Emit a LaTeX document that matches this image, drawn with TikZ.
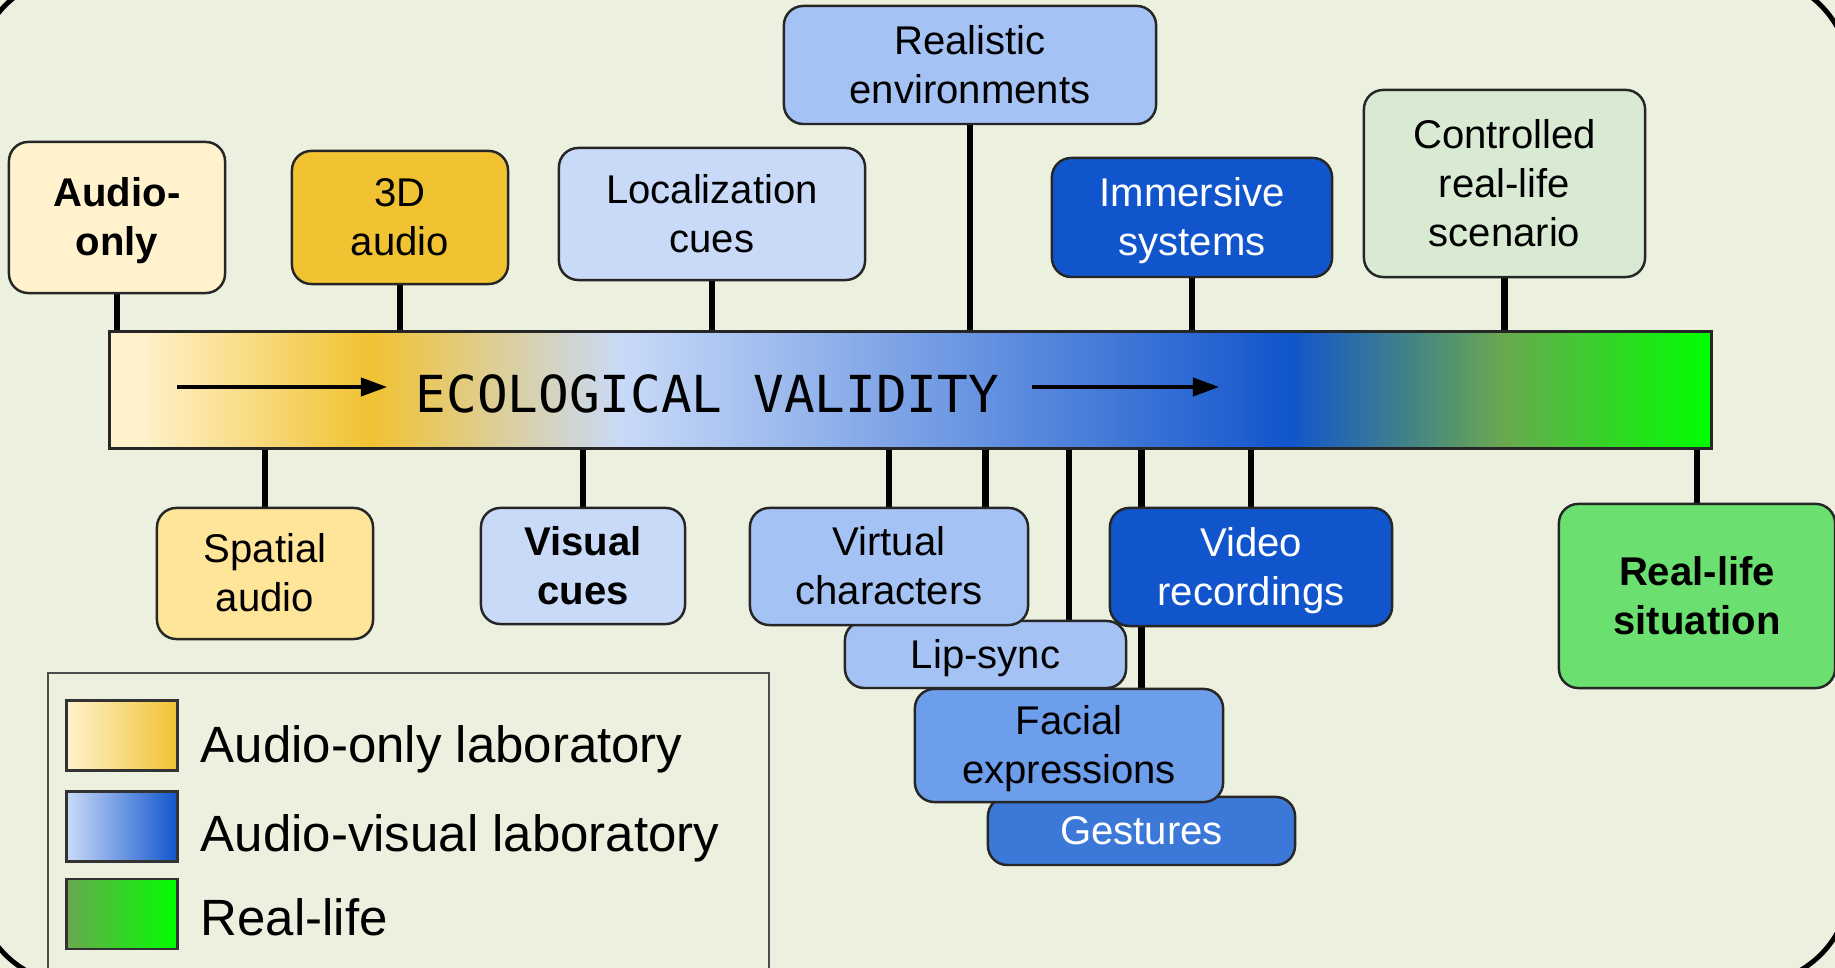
\documentclass[tikz,border=0pt]{standalone}
\usepackage{fontspec}
\setmainfont{Liberation Sans}
\newfontfamily\ecomono{DejaVu Sans Mono}
\usetikzlibrary{arrows.meta}

\definecolor{bgc}{HTML}{ECF0DF}
\definecolor{cream}{HTML}{FFF2CC}
\definecolor{gold}{HTML}{F1C232}
\definecolor{lyellow}{HTML}{FFE599}
\definecolor{lblue3}{HTML}{C9DAF8}
\definecolor{lblue2}{HTML}{A4C2F4}
\definecolor{lblue1}{HTML}{6D9EEB}
\definecolor{dblue1}{HTML}{3C78D8}
\definecolor{dblue2}{HTML}{1155CC}
\definecolor{lgreen3}{HTML}{D9EAD3}
\definecolor{rgreen}{HTML}{6BE070}
\definecolor{ogreen}{HTML}{6AA84F}
\definecolor{lgreen}{HTML}{00FF00}

\newcommand{\boxfont}{\fontsize{11.4pt}{14pt}\selectfont}
\newcommand{\legfont}{\fontsize{14.5pt}{17pt}\selectfont}
\newcommand{\ecofont}{\ecomono\fontsize{14.5pt}{17pt}\selectfont}
\newcommand{\ls}{\rule[-0.212em]{0pt}{1.117em}}

\pgfdeclarelayer{bg}
\pgfdeclarelayer{lines}
\pgfsetlayers{bg,lines,main}

\pgfdeclarehorizontalshading{ecoshade}{100bp}{color(0bp)=(cream); color(26bp)=(cream); color(33.1bp)=(gold); color(41bp)=(lblue3); color(61.85bp)=(dblue2); color(68.5bp)=(ogreen); color(75bp)=(lgreen); color(100bp)=(lgreen)}

\begin{document}
\begin{tikzpicture}[x=0.01cm, y=-0.01cm,
    box/.style={draw=black!85, line width=0.7pt, rounded corners=5.5pt, align=center, inner sep=0pt, font=\boxfont,
        execute at end node=\ls},
    conn/.style={line width=1.9pt},
    flow/.style={line width=0.9pt, -{Triangle[length=7.4pt,width=5.2pt]}},
    swatch/.style={draw=black!80, line width=0.7pt, minimum width=1.11cm, minimum height=0.70cm, inner sep=0pt},
    legtext/.style={anchor=base west, inner sep=0pt, font=\legfont}]

    \useasboundingbox (0,0) rectangle (1835,968);
    \begin{pgfonlayer}{bg}
        \fill[bgc] (0,0) rectangle (1835,968);
        \draw[line width=1.4pt, rounded corners=1cm] (-24,-24) rectangle (1850,984);
    \end{pgfonlayer}

    % above the bar
    \node[box, fill=cream, font=\boxfont\bfseries, minimum width=2.16cm, minimum height=1.51cm] (aonly) at (117,217.5) {\ls Audio-\\only};
    \node[box, fill=gold, minimum width=2.16cm, minimum height=1.33cm] (threed) at (400,217.5) {\ls 3D\\audio};
    \node[box, fill=lblue3, minimum width=3.06cm, minimum height=1.32cm] (loc) at (712,214) {\ls Localization\\cues};
    \node[box, fill=lblue2, minimum width=3.72cm, minimum height=1.18cm] (realenv) at (970,65) {\ls Realistic\\environments};
    \node[box, fill=dblue2, text=white, minimum width=2.80cm, minimum height=1.19cm] (immersive) at (1192,217.5) {\ls Immersive\\systems};
    \node[box, fill=lgreen3, minimum width=2.81cm, minimum height=1.87cm] (controlled) at (1504.5,183.5) {\ls Controlled\\real-life\\scenario};

    % the bar
    \node[draw=black!85, line width=0.8pt, shading=ecoshade, minimum width=16.01cm, minimum height=1.17cm, inner sep=0pt] (bar) at (910.5,390) {};
    \node[font=\ecofont, anchor=base west, inner sep=0pt] (eco) at (415,413) {ECOLOGICAL VALIDITY};
    \draw[flow] (177,387) -- (387,387);
    \draw[flow] (1032,387) -- (1219,387);

    % below the bar
    \node[box, fill=lyellow, minimum width=2.16cm, minimum height=1.31cm] (spatial) at (265,573.5) {\ls Spatial\\audio};
    \node[box, fill=lblue3, font=\boxfont\bfseries, minimum width=2.04cm, minimum height=1.16cm] (visual) at (583,566) {\ls Visual\\cues};
    \node[box, fill=dblue1, text=white, minimum width=3.07cm, minimum height=0.68cm] (gestures) at (1141.5,831) {\ls Gestures};
    \node[box, fill=lblue1, minimum width=3.08cm, minimum height=1.13cm] (facial) at (1069,745.5) {\ls Facial\\expressions};
    \node[box, fill=lblue2, minimum width=2.81cm, minimum height=0.67cm] (lipsync) at (985.5,654.5) {\ls Lip-sync};
    \node[box, fill=lblue2, minimum width=2.78cm, minimum height=1.17cm] (virtual) at (889,566.5) {\ls Virtual\\characters};
    \node[box, fill=dblue2, text=white, minimum width=2.82cm, minimum height=1.18cm] (video) at (1251,567) {\ls Video\\recordings};
    \node[box, fill=rgreen, font=\boxfont\bfseries, minimum width=2.76cm, minimum height=1.84cm] (reallife) at (1697,596) {\ls Real-life\\situation};

    \begin{pgfonlayer}{lines}
        \foreach \n in {aonly,threed,loc,realenv,immersive,controlled}
            \draw[conn] (\n.south) -- (\n.south |- bar.north);
        \foreach \n in {spatial,visual,virtual,lipsync,facial,gestures,video,reallife}
            \draw[conn] (\n.north) -- (\n.north |- bar.south);
    \end{pgfonlayer}

    % legend
    \draw[black!70, line width=0.75pt] (48,673) rectangle (769,1000);
    \node[swatch, left color=cream, right color=gold] (sw1) at (122,735.7) {};
    \node[swatch, left color=lblue3, right color=dblue2] (sw2) at (122,826.7) {};
    \node[swatch, left color=ogreen, right color=lgreen] (sw3) at (122,914) {};
    \node[legtext] (lt1) at (200,763) {Audio-only laboratory};
    \node[legtext] (lt2) at (200,852) {Audio-visual laboratory};
    \node[legtext] (lt3) at (200,936) {Real-life};
\end{tikzpicture}
\end{document}
